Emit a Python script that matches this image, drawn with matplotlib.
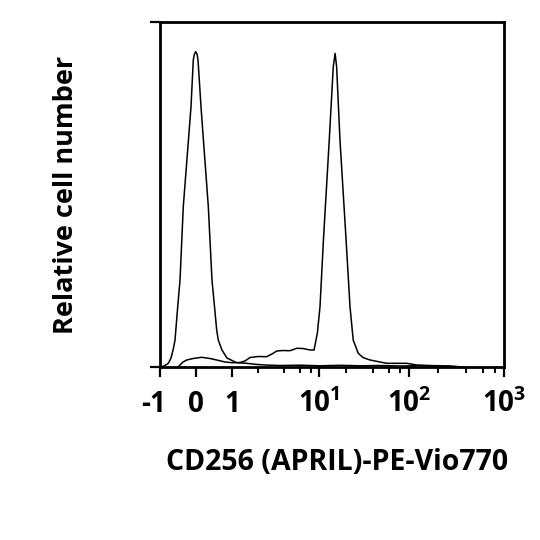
import numpy as np
import matplotlib
matplotlib.use("Agg")
import matplotlib.pyplot as plt
from matplotlib.transforms import ScaledTranslation

plt.rcParams['font.family'] = ['Open Sans', 'DejaVu Sans']
plt.rcParams['font.weight'] = 'bold'

# negative control histogram (peak near 0)
neg_x = [-1.0, -0.889, -0.769, -0.694, -0.631, -0.583, -0.508, -0.444, -0.353, -0.139,
         -0.075, -0.047, -0.008, 0.031, 0.056, 0.139, 0.342, 0.444, 0.514, 0.575, 0.619,
         0.722, 0.861, 1.13, 1.48, 1.84, 2.39, 3.56, 6.06, 10.3, 17.1, 28.5, 47.6, 79.4,
         131, 212, 305, 388]
neg_y = [0, 0.29, 1.07, 2.6, 5.2, 7.8, 17.5, 25.2, 46.5, 75.4,
         89.0, 90.6, 91.4, 90.6, 89.0, 75.4, 46.5, 25.2, 17.5, 10.7, 7.8,
         4.9, 2.6, 1.25, 1.07, 0.78, 0.58, 0.43, 0.52, 0.35, 0.49, 0.35, 0.43, 0.29,
         0.38, 0.23, 0.14, 0]

# CD256 stained histogram (peak near 15)
pos_x = [-0.5, -0.444, -0.361, -0.258, -0.083, 0.158, 0.389, 0.575, 0.806, 1.0,
         1.236, 1.41, 1.61, 1.99, 2.5, 2.88, 3.27, 3.86, 4.64, 5.54, 6.55, 7.88, 8.77,
         9.58, 10.26, 11.2, 13.0, 14.4, 15.1, 15.7, 17.1, 20.0, 22.1, 24.0, 27.3, 30.8,
         36.9, 56.5, 94.5, 120, 166, 270, 344]
pos_y = [0, 0.58, 1.45, 2.03, 2.46, 2.81, 2.46, 2.03, 1.45, 1.25,
         1.30, 1.74, 2.75, 3.04, 2.99, 3.77, 4.64, 4.78, 4.72, 5.42, 5.36, 4.93, 4.93,
         9.86, 17.5, 36.8, 65.8, 87.0, 90.9, 87.0, 65.8, 36.8, 17.5, 7.8, 3.97, 2.75,
         2.03, 1.07, 1.07, 0.58, 0.43, 0.29, 0]

tick_vals = [-1, 0, 1, 10, 100, 1000]
tick_labels = ['-1', '0', '1', r'$\mathregular{10^1}$', r'$\mathregular{10^2}$', r'$\mathregular{10^3}$']
minor_vals = [2, 4, 6, 8, 20, 40, 60, 80, 200, 400, 600, 800]


# biexponential-like display: linear -1..1, log above
def fwd(v):
    v = np.asarray(v, dtype=float)
    lg = np.log10(np.maximum(v, 1.0))
    p = np.where(lg <= 1, 232 + 87 * lg,
                 np.where(lg <= 2, 319 + 90 * (lg - 1), 409 + 95 * (lg - 2)))
    return np.where(v <= 1, 196 + 36 * v, p)


def inv(p):
    p = np.asarray(p, dtype=float)
    lg = np.where(p <= 319, (p - 232) / 87,
                  np.where(p <= 409, 1 + (p - 319) / 90, 2 + (p - 409) / 95))
    with np.errstate(over='ignore'):
        return np.where(p <= 232, (p - 196) / 36, 10 ** np.clip(lg, -10, 10))


fig = plt.figure(figsize=(5.4, 5.4), dpi=100)
ax = fig.add_axes([160 / 540, 1 - 367 / 540, 344 / 540, 345 / 540])
ax.set_xscale('function', functions=(fwd, inv))

ax.plot(neg_x, neg_y, color='black', lw=1.1)
ax.plot(pos_x, pos_y, color='black', lw=1.1)

ax.set_xlim(-1, 1000)
ax.set_ylim(0, 100)

for s in ax.spines.values():
    s.set_linewidth(2.0)

ax.set_xticks(tick_vals)
ax.set_xticklabels(tick_labels, fontsize=20, fontweight='bold')
ax.set_xticks(minor_vals, minor=True)
ax.tick_params(axis='x', which='major', direction='out', length=7.2, width=1.6, pad=25)
ax.tick_params(axis='x', which='minor', direction='out', length=4.5, width=1.4)
for t in ax.get_xticklabels():
    t.set_verticalalignment('baseline')
first = ax.get_xticklabels()[0]
first.set_transform(first.get_transform() + ScaledTranslation(-0.06, 0, fig.dpi_scale_trans))

ax.set_yticks([0, 100])
ax.set_yticklabels([])
ax.tick_params(axis='y', direction='out', length=7.2, width=1.6)

ax.set_xlabel('CD256 (APRIL)-PE-Vio770', fontsize=20.5, fontweight='bold')
ax.xaxis.set_label_coords((337.5 - 160) / 344, (367 - 470) / 345)
ax.xaxis.label.set_verticalalignment('baseline')
ax.set_ylabel('Relative cell number', fontsize=19.5, fontweight='bold')
ax.yaxis.set_label_coords(-(160 - 73) / 344, (367 - 195) / 345)
ax.yaxis.label.set_verticalalignment('baseline')

fig.savefig('out.png', dpi=100)
